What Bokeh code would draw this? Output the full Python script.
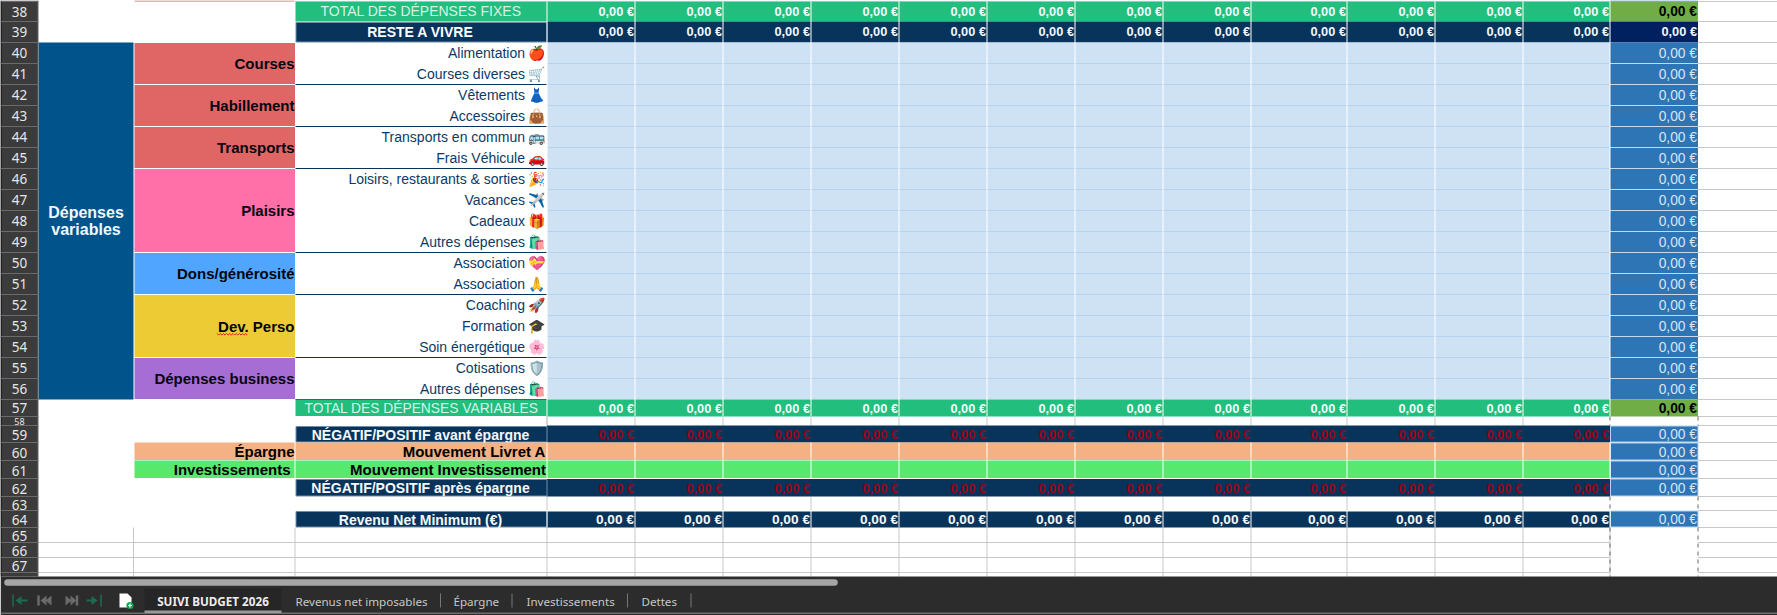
from bokeh.plotting import figure
from bokeh.models import Range1d
from bokeh.core.properties import value
from bokeh.embed import file_html
from bokeh.resources import INLINE

# ---------- sheet content ----------
row_numbers = list(range(38, 68))
groups = ["Courses", "Habillement", "Transports", "Plaisirs", "Dons/générosité", "Dev. Perso", "Dépenses business"]
group_sizes = [2, 2, 2, 4, 2, 3, 2]
group_colors = ["#E06666", "#E06666", "#E06666", "#FF6FA8", "#4FA5FF", "#ECCB35", "#A66DD4"]
items = ["Alimentation", "Courses diverses", "Vêtements", "Accessoires", "Transports en commun", "Frais Véhicule",
         "Loisirs, restaurants & sorties", "Vacances", "Cadeaux", "Autres dépenses", "Association", "Association",
         "Coaching", "Formation", "Soin énergétique", "Cotisations", "Autres dépenses"]
item_emojis = ["🍎", "🛒", "👗", "👜", "🚌", "🚗", "🎉", "✈️", "🎁", "🛍️", "💝", "🙏", "🚀", "🎓", "🌸", "🛡️", "🛍️"]
total_fixes = [0.00, 0.00, 0.00, 0.00, 0.00, 0.00, 0.00, 0.00, 0.00, 0.00, 0.00, 0.00]
reste_a_vivre = [0.00, 0.00, 0.00, 0.00, 0.00, 0.00, 0.00, 0.00, 0.00, 0.00, 0.00, 0.00]
total_variables = [0.00, 0.00, 0.00, 0.00, 0.00, 0.00, 0.00, 0.00, 0.00, 0.00, 0.00, 0.00]
avant_epargne = [0.00, 0.00, 0.00, 0.00, 0.00, 0.00, 0.00, 0.00, 0.00, 0.00, 0.00, 0.00]
apres_epargne = [0.00, 0.00, 0.00, 0.00, 0.00, 0.00, 0.00, 0.00, 0.00, 0.00, 0.00, 0.00]
revenu_min = [0.00, 0.00, 0.00, 0.00, 0.00, 0.00, 0.00, 0.00, 0.00, 0.00, 0.00, 0.00]
total_item = 0.00
sheet_tabs = ["Revenus net imposables", "Épargne", "Investissements", "Dettes"]
active_tab = "SUIVI BUDGET 2026"

# ---------- layout of the sheet, in page pixels of the reference ----------
W, H = 1777, 615
row_edges = [1, 21, 42, 63, 84, 105, 126, 147, 168, 189, 210, 231, 252, 273, 294, 315, 336, 357, 378, 399,
             416, 425, 442, 460, 478, 496, 510, 527, 542, 557, 572]
col_a, col_b, col_c, col_m0 = 38, 134, 295, 546.5
month_edges = [546.5, 634.5, 722.5, 810.5, 898.5, 986.5, 1074.5, 1162.5, 1250.5, 1346.5, 1434.5, 1522.5, 1609.5]
col_tot = 1697.5
grid_bottom = 576


def ry(n):
    return row_edges[n - 38], row_edges[n - 37]


def money(v):
    return f"{v:.2f}".replace(".", ",") + " €"


p = figure(width=W, height=H, x_range=Range1d(0, W), y_range=Range1d(H, 0),
           x_axis_type=None, y_axis_type=None, toolbar_location=None, output_backend="svg",
           min_border=0, outline_line_color=None, background_fill_color="#FFFFFF", border_fill_color="#FFFFFF")
p.xgrid.visible = False
p.ygrid.visible = False


def rect(x0, x1, y0, y1, color, line=None):
    p.quad(left=x0, right=x1, top=y0, bottom=y1, fill_color=color, line_color=line, line_width=1)


def seg(x0, y0, x1, y1, color, w=1, dash="solid"):
    p.segment(x0=[x0], y0=[y0], x1=[x1], y1=[y1], line_color=color, line_width=w, line_dash=dash)


def txt(x, y, s, size, color="#000000", bold=False, align="right", font="Liberation Sans"):
    p.text(x=[x], y=[y], text=[s], text_font=value(font), text_font_size=f"{size}px", text_color=color,
           text_font_style="bold" if bold else "normal", text_align=align, text_baseline="middle")


GRID = "#C8C8C8"
GREEN, NAVY, LIGHT, BLUE, OLIVE = "#22BE7E", "#08345C", "#CFE2F3", "#2E75B6", "#70AD47"

# top remnant of the row above
rect(col_c, month_edges[-1], 0, 1, LIGHT)
rect(col_b, col_c - 1, 0, 1, "#E06666")
rect(month_edges[-1], col_tot, 0, 1, BLUE)

# grey grid, bottom rows and right side
for n in row_numbers:
    y = ry(n)[1]
    seg(col_tot, y, W, y, GRID)
seg(col_tot, 1, W, 1, GRID)
for n in (65, 66, 67):
    y = ry(n)[1]
    seg(col_a, y, month_edges[-1], y, GRID)
for x in [col_b - 1, col_c - 0.5] + month_edges:
    seg(x, 527, x, grid_bottom, GRID)
for x in month_edges[:-1]:
    seg(x, ry(58)[0], x, ry(58)[1], GRID)
    seg(x, ry(63)[0], x, ry(63)[1], GRID)
seg(col_m0, ry(57)[1], col_m0, ry(59)[0], GRID)
for x in (month_edges[-1], col_tot):
    for n0, n1 in ((58, 58), (63, 63), (65, 67)):
        seg(x, ry(n0)[0], x, min(ry(n1)[1] + 4 if n1 == 67 else ry(n1)[1], grid_bottom), "#666666", 1, "4 4")

# rows 38 / 39
rect(col_c, col_m0, *ry(38), GREEN)
rect(col_m0, month_edges[-1], *ry(38), GREEN)
rect(month_edges[-1], col_tot, *ry(38), OLIVE)
rect(col_m0, month_edges[-1], *ry(39), NAVY)
rect(col_c + 0.5, col_m0, ry(39)[0] + 1, ry(39)[1] - 0.5, NAVY, "#6F8CA6")
rect(month_edges[-1], col_tot, *ry(39), "#002060")
txt(420.5, 10.7, "TOTAL DES DÉPENSES FIXES", 14.0, "#D9F2E6", align="center")
txt(420, 31.3, "RESTE A VIVRE", 14, "#FFFFFF", True, align="center")

# Variable expenses
rect(col_a, col_b - 1, row_edges[2], row_edges[19], "#00548C")
txt(85.5, 212, "Dépenses", 16, "#F2F7FB", True, align="center")
txt(85.5, 229, "variables", 16, "#F2F7FB", True, align="center")
rect(col_m0, month_edges[-1], row_edges[2], row_edges[19], LIGHT)
rect(month_edges[-1], col_tot, row_edges[2], row_edges[19], BLUE)

item_index = 0
row = 40
for name, size, color in zip(groups, group_sizes, group_colors):
    y0 = ry(row)[0]
    y1 = ry(row + size - 1)[1]
    rect(col_b, col_c - 0.5, y0 + 0.5, y1 - 0.5, color)
    txt(294, (y0 + y1) / 2, name, 15, "#050510", True)
    seg(col_c, y1, col_m0, y1, NAVY, 1)
    row += size
for k, (label, emoji) in enumerate(zip(items, item_emojis)):
    y0, y1 = ry(40 + k)
    txt(524.5, (y0 + y1) / 2 - 0.5, label, 14, "#0B3A66")
    txt(545.5, (y0 + y1) / 2 - 0.5, emoji, 14, "#0B3A66", font="Noto Color Emoji")
    y = y1
    if k < 16:
        seg(col_m0, y, month_edges[-1], y, "#B9D3EE")
        seg(month_edges[-1], y, col_tot, y, "#C4D9EE")
    txt(col_tot - 1, (y0 + y1) / 2 + 0.5, money(total_item), 13.8, "#D6E5F3")

# Dev. Perso spelling squiggle
squig_x = [216.5 + 1.6 * i for i in range(20)]
p.line(x=squig_x, y=[333 + (i % 2) * 1.6 for i in range(20)], line_color="#E02020", line_width=1)

# row 57
rect(col_c, month_edges[-1], *ry(57), GREEN)
rect(month_edges[-1], col_tot, *ry(57), OLIVE)
txt(421, sum(ry(57)) / 2 + 0.5, "TOTAL DES DÉPENSES VARIABLES", 13.8, "#D9F2E6", align="center")

# rows 59-64
for n, label in ((59, "NÉGATIF/POSITIF avant épargne"), (62, "NÉGATIF/POSITIF après épargne"), (64, "Revenu Net Minimum (€)")):
    y0, y1 = ry(n)
    rect(col_m0, month_edges[-1], y0 + (1 if n == 64 else 0), y1, NAVY)
    rect(col_c + 0.5, col_m0, y0 + 1, y1 - 0.5, NAVY, "#6F8CA6")
    txt(420, (y0 + y1) / 2 + 0.5, label, 14, "#F5F8FB", True, align="center")
    rect(month_edges[-1] + 0.5, col_tot, y0 + 0.5, y1 - 0.5, BLUE, "#B9D3EE")
    txt(col_tot - 1, (y0 + y1) / 2 + 0.5, money(total_item), 13.8, "#D6E5F3")
for n, color, cat, mv, xr in ((60, "#F4B183", "Épargne", "Mouvement Livret A", 294),
                              (61, "#57E86E", "Investissements", "Mouvement Investissement", 290)):
    y0, y1 = ry(n)
    rect(col_b, month_edges[-1], y0, y1, color)
    seg(col_c - 0.5, y0, col_c - 0.5, y1, "#FFFFFF")
    seg(col_b, y1, month_edges[-1], y1, "#FFFFFF")
    rect(month_edges[-1] + 0.5, col_tot, y0 + 0.5, y1 - 0.5, BLUE, "#B9D3EE")
    txt(xr, (y0 + y1) / 2 - 0.3, cat, 15, "#000000", True)
    txt(545.5, (y0 + y1) / 2 - 0.3, mv, 15, "#000000", True)
    txt(col_tot - 1, (y0 + y1) / 2 + 0.5, money(total_item), 13.8, "#D6E5F3")
seg(col_c, ry(57)[1], col_c + 251, ry(57)[1], "#FFFFFF")

# month verticals
for x in month_edges:
    seg(x, 1, x, row_edges[20], "#FFFFFF")
    seg(x, ry(60)[0], x, ry(61)[1], "#FFFFFF")
    seg(x, ry(64)[0], x, ry(64)[1], "#FFFFFF")

# month values
rows_values = ((38, total_fixes, "#F2FBF7", 12.8, -0.5), (39, reste_a_vivre, "#F2F7FB", 12.8, -0.5), (57, total_variables, "#F2FBF7", 12.8, 0.5),
               (59, avant_epargne, "#A00010", 12.8, 0.5), (62, apres_epargne, "#A00010", 12.8, 0.5), (64, revenu_min, "#F5F8FB", 13.7, 0.5))
for n, vals, color, size, dy in rows_values:
    y = sum(ry(n)) / 2 + dy
    for x, v in zip(month_edges[1:], vals):
        txt(x - 1, y, money(v), size, color, True)
txt(col_tot - 1, sum(ry(38)) / 2 - 0.5, money(sum(total_fixes)), 13.8, "#000000", True)
txt(col_tot - 1, sum(ry(39)) / 2 - 0.5, money(sum(reste_a_vivre)), 12.8, "#F2F7FB", True)
txt(col_tot - 1, sum(ry(57)) / 2 + 0.5, money(sum(total_variables)), 13.8, "#000000", True)

# row header column
rect(0, col_a - 0.5, 0, grid_bottom, "#3B3B3B")
rect(0, 1.5, 0, grid_bottom, "#222222")
seg(col_a - 0.5, 0, col_a - 0.5, grid_bottom, "#666666")
for n in row_numbers:
    y0, y1 = ry(n)
    seg(0, y1, col_a, y1, "#6A6A6A")
    txt(19, (y0 + y1) / 2 + (1 if n >= 59 else 0), str(n), 9 if n == 58 else 13.5, "#E6E6E6", align="center", font="Noto Sans")
seg(0, 1, col_a, 1, "#6A6A6A")

# bottom chrome
rect(0, W, grid_bottom, H, "#2C2C2C")
seg(0, 612.7, W, 612.7, "#6E6E6E", 1.5)
p.line(x=[7, 834], y=[582, 582], line_color="#A6A6A6", line_width=6.5, line_cap="round")
rect(144, 281, 588, 612, "#262626")
rect(144, 281, 610, 612.5, "#9A9A9A")
txt(212.5, 600, active_tab, 11.7, "#EDEDED", True, align="center", font="Noto Sans")
tab_x = [295, 453, 526, 641]
sep_x = [440, 511.5, 627, 690.5]
for x, s in zip(tab_x, sheet_tabs):
    txt(x, 600.5, s, 11.6, "#C8C8C8", align="left", font="Noto Sans")
for x in sep_x:
    seg(x, 593, x, 607, "#777777")
# sheet navigation icons
for pts, c in (
    ([(15, 600), (21, 595.5), (21, 604.5)], "#1B6B52"),
    ([(97, 600), (91, 595.5), (91, 604.5)], "#1B6B52"),
    ([(40, 600), (46, 595), (46, 605)], "#6A6A6A"),
    ([(45, 600), (51, 595), (51, 605)], "#6A6A6A"),
    ([(71, 600), (65, 595), (65, 605)], "#6A6A6A"),
    ([(76, 600), (70, 595), (70, 605)], "#6A6A6A"),
):
    p.patch(x=[q[0] for q in pts], y=[q[1] for q in pts], fill_color=c, line_color=None)
seg(12.5, 594, 12.5, 606, "#1B6B52", 1.5)
seg(18, 600, 27, 600, "#1B6B52", 2)
seg(86, 600, 95, 600, "#1B6B52", 2)
seg(100.5, 594, 100.5, 606, "#1B6B52", 1.5)
seg(38, 595, 38, 605, "#6A6A6A", 2.5)
seg(76.5, 595, 76.5, 605, "#6A6A6A", 2.5)
p.patch(x=[119, 127, 131, 131, 119], y=[593, 593, 597, 607, 607], fill_color="#FFFFFF", line_color=None)
p.circle(x=[129.5], y=[605], radius=3.6, fill_color="#1E9E4A", line_color=None)
seg(127.5, 605, 131.5, 605, "#FFFFFF", 1.2)
seg(129.5, 603, 129.5, 607, "#FFFFFF", 1.2)

open("out.html", "w").write(file_html(p, INLINE))
